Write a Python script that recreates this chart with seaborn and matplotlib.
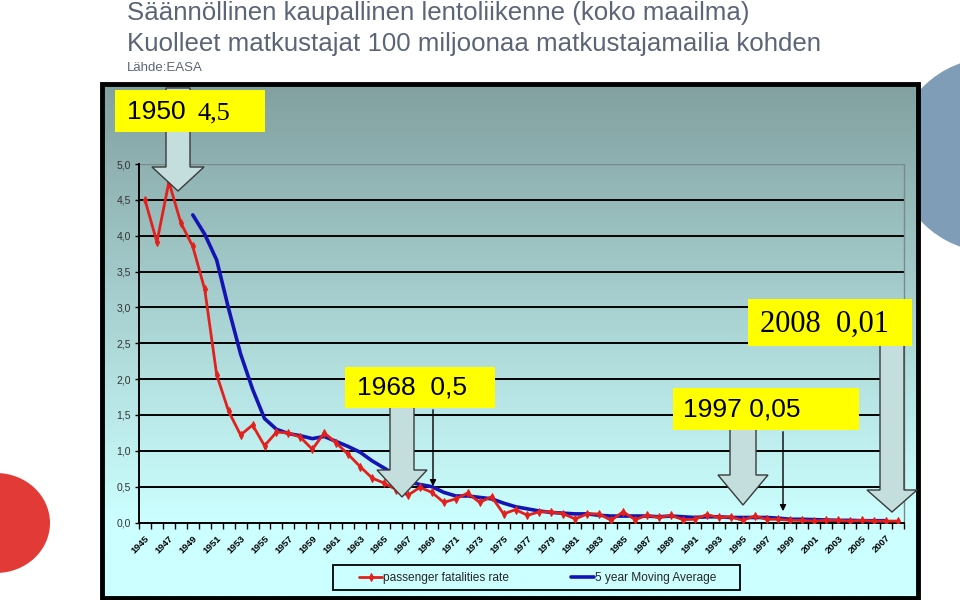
import numpy as np
import pandas as pd
import matplotlib
matplotlib.use("Agg")
import matplotlib.pyplot as plt
import matplotlib.transforms as mtransforms
import seaborn as sns
from matplotlib.patches import Polygon, Rectangle, Ellipse
from matplotlib.ticker import FixedLocator, FuncFormatter

# ---------------- data ----------------
years = list(range(1945, 2009))
fatality_rate = [4.50, 3.91, 4.75, 4.18, 3.85, 3.25, 2.06, 1.55, 1.22, 1.36,
                 1.07, 1.26, 1.25, 1.19, 1.02, 1.25, 1.11, 0.95, 0.78, 0.62,
                 0.55, 0.46, 0.38, 0.49, 0.42, 0.28, 0.33, 0.41, 0.28, 0.36,
                 0.12, 0.18, 0.10, 0.15, 0.15, 0.12, 0.05, 0.12, 0.12, 0.03,
                 0.15, 0.04, 0.10, 0.07, 0.10, 0.04, 0.045, 0.11, 0.07, 0.08,
                 0.03, 0.09, 0.045, 0.045, 0.03, 0.03, 0.02, 0.03, 0.03, 0.02,
                 0.03, 0.02, 0.02, 0.02]
ma_years = list(range(1949, 2008))
moving_avg = [4.29, 4.02, 3.66, 2.98, 2.35, 1.86, 1.45, 1.30, 1.24, 1.21,
              1.17, 1.20, 1.13, 1.06, 0.98, 0.86, 0.76, 0.66, 0.57, 0.53,
              0.50, 0.42, 0.37, 0.37, 0.35, 0.33, 0.27, 0.22, 0.19, 0.16,
              0.14, 0.13, 0.12, 0.12, 0.10, 0.09, 0.09, 0.09, 0.09, 0.08,
              0.09, 0.08, 0.07, 0.08, 0.08, 0.07, 0.07, 0.07, 0.07, 0.06,
              0.045, 0.045, 0.04, 0.035, 0.03, 0.03, 0.025, 0.025, 0.025]
label_years = list(range(1945, 2008, 2))
y_ticks = [0.0, 0.5, 1.0, 1.5, 2.0, 2.5, 3.0, 3.5, 4.0, 4.5, 5.0]
series_names = ["passenger fatalities rate", "5 year Moving Average"]

title1 = "Säännöllinen kaupallinen lentoliikenne (koko maailma)"
title2 = "Kuolleet matkustajat 100 miljoonaa matkustajamailia kohden"
source = "Lähde:EASA"
callout_years = ["1950", "1968", "1997", "2008"]
callout_values = ["4,5", "0,5", "0,05", "0,01"]

# ---------------- style ----------------
sns.set_theme(style="white")
plt.rcParams["font.family"] = ["Liberation Sans", "DejaVu Sans"]

W, H = 960, 600
fig = plt.figure(figsize=(9.6, 6), dpi=100)
fig.patch.set_facecolor("white")


def fx(x):
    return x / W


def fy(y):
    return 1 - y / H


# ---------------- background layer ----------------
bg = fig.add_axes([0, 0, 1, 1], zorder=0)
bg.set_xlim(0, W)
bg.set_ylim(H, 0)
bg.axis("off")

bg.add_patch(Ellipse((992, 155), 194, 194, facecolor="#7f9db6", edgecolor="none"))
bg.add_patch(Ellipse((-4, 523), 108, 100, facecolor="#e23a36", edgecolor="none"))

# chart-area gradient
top_c = np.array([130, 160, 160]) / 255
bot_c = np.array([204, 255, 255]) / 255
ys = np.linspace(84, 598, 300)
t = np.clip((ys - 84) / (520 - 84), 0, 1)[:, None]
grad = (top_c * (1 - t) + bot_c * t)[:, None, :]
bg.imshow(grad, extent=(102, 918, 598, 84), aspect="auto", interpolation="bilinear", zorder=1)
bg.add_patch(Rectangle((102, 84), 816, 514, facecolor="none", edgecolor="black", lw=3.5, zorder=2))
# legend frame
bg.add_patch(Rectangle((333, 565), 407, 25, facecolor="none", edgecolor="black", lw=1.3, zorder=3))

# ---------------- main plot ----------------
ax = fig.add_axes([fx(139), fy(522.5), (904 - 139) / W, (522.5 - 164) / H], zorder=1)
ax.patch.set_alpha(0)

df_rate = pd.DataFrame({"year": years, "value": fatality_rate})
df_ma = pd.DataFrame({"year": ma_years, "value": moving_avg})

sns.lineplot(data=df_rate, x="year", y="value", ax=ax, color="#e3201b", lw=2.0,
             marker="d", markersize=4.0, markeredgecolor="#e3201b",
             label=series_names[0], zorder=4)
sns.lineplot(data=df_ma, x="year", y="value", ax=ax, color="#1414b4", lw=2.6,
             label=series_names[1], zorder=3)

ax.set_xlim(1944.5, 2008.5)
ax.set_ylim(0, 5)
ax.set_xlabel("")
ax.set_ylabel("")

ax.yaxis.set_major_locator(FixedLocator(y_ticks))
ax.yaxis.set_major_formatter(FuncFormatter(lambda v, p: f"{v:.1f}".replace(".", ",")))
ax.tick_params(axis="y", which="major", length=3, width=1, color="black",
               labelsize=7.5, labelcolor="#333333", pad=3, left=True, direction="out")
for v in y_ticks[1:-1]:
    ax.axhline(v, color="black", lw=1.4, zorder=1)
ax.axhline(5.0, color="#7a8a8a", lw=1.0, zorder=1)

ax.xaxis.set_major_locator(FixedLocator(label_years))
ax.set_xticklabels([str(y) for y in label_years], rotation=45, ha="right",
                   va="top", rotation_mode="anchor", fontsize=6.8, fontweight="bold")
shift = mtransforms.ScaledTranslation(-7 / 100, 0, fig.dpi_scale_trans)
for lab in ax.get_xticklabels():
    lab.set_transform(lab.get_transform() + shift)
ax.xaxis.set_minor_locator(FixedLocator([y - 0.5 for y in years] + [2008.5]))
ax.tick_params(axis="x", which="major", length=0, pad=8, labelcolor="black")
ax.tick_params(axis="x", which="minor", length=4, width=1, color="black",
               bottom=True, direction="out")

for s in ["left", "bottom"]:
    ax.spines[s].set_color("black")
    ax.spines[s].set_linewidth(1.4)
ax.spines["top"].set_visible(False)
ax.spines["right"].set_color("#7a8a8a")
ax.spines["right"].set_linewidth(1.0)

handles, labels = ax.get_legend_handles_labels()
ax.get_legend().remove()
leg = fig.legend(handles, labels, loc="center", bbox_to_anchor=(fx(538), fy(578)),
                 ncol=2, frameon=False, fontsize=8.6,
                 columnspacing=5.2, handlelength=1.9, handletextpad=0.1,
                 borderpad=0.2)

# ---------------- titles ----------------
tcol = "#5b6577"
fig.text(fx(127), fy(13), title1, ha="left", va="center", fontsize=18.6, color=tcol)
fig.text(fx(127), fy(44), title2, ha="left", va="center", fontsize=18.6, color=tcol)
fig.text(fx(127), fy(68), source, ha="left", va="center", fontsize=9.5, color=tcol)

# ---------------- callouts overlay ----------------
ov = fig.add_axes([0, 0, 1, 1], zorder=3)
ov.set_xlim(0, W)
ov.set_ylim(H, 0)
ov.axis("off")


def block_arrow(xc, sw, y_top, y_head, hw, y_tip):
    pts = [(xc - sw / 2, y_top), (xc + sw / 2, y_top), (xc + sw / 2, y_head),
           (xc + hw / 2, y_head), (xc, y_tip), (xc - hw / 2, y_head),
           (xc - sw / 2, y_head)]
    ov.add_patch(Polygon(pts, closed=True, facecolor="#c4dede", edgecolor="#3a3a3a", lw=1.0))


block_arrow(178, 24, 88, 167, 52, 191)
block_arrow(402, 24, 406, 470, 50, 497)
block_arrow(743, 26, 428, 475, 50, 505)
block_arrow(892, 24, 344, 490, 50, 512)

ov.annotate("", xy=(433, 489), xytext=(433, 407),
            arrowprops=dict(arrowstyle="-|>", color="black", lw=1.0, mutation_scale=9))
ov.annotate("", xy=(783, 514), xytext=(783, 429),
            arrowprops=dict(arrowstyle="-|>", color="black", lw=1.0, mutation_scale=9))

yellow = "#ffff00"
boxes = [(115, 90, 150, 42), (345, 367, 150, 41), (673, 388, 186, 42), (748, 299, 164, 47)]
for (bx, by, bw, bh) in boxes:
    ov.add_patch(Rectangle((bx, by), bw, bh, facecolor=yellow, edgecolor="none"))

serif = ["Liberation Serif", "DejaVu Serif"]
ov.text(127, 112, callout_years[0], ha="left", va="center", fontsize=19, color="black")
ov.text(197, 113, callout_values[0], ha="left", va="center", fontsize=19, color="black",
        family=serif)
ov.text(357, 388, callout_years[1] + "  " + callout_values[1], ha="left", va="center",
        fontsize=19, color="black")
ov.text(683, 409, callout_years[2] + " " + callout_values[2], ha="left", va="center",
        fontsize=19, color="black")
ov.text(760, 324, callout_years[3] + "  " + callout_values[3], ha="left", va="center",
        fontsize=22, color="black", family=serif)

fig.savefig("out.png", dpi=100)
